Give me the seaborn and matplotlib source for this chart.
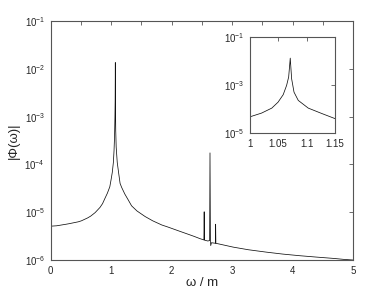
import numpy as np
import pandas as pd
import seaborn as sns
import matplotlib
matplotlib.use('Agg')
import matplotlib.pyplot as plt
from matplotlib.ticker import FixedLocator, MultipleLocator, NullLocator

# |Phi(omega)|, omega in units of m
omega = [0.00, 0.102, 0.256, 0.307, 0.46, 0.51, 0.614, 0.665, 0.737, 0.818,
         0.86, 0.90, 0.94, 0.98, 1.000, 1.021, 1.039, 1.050, 1.059, 1.065,
         1.0686, 1.0714, 1.0738, 1.078, 1.0855, 1.103, 1.127, 1.15, 1.176, 1.228,
         1.279, 1.34, 1.43, 1.565, 1.69, 1.84, 1.94, 2.11, 2.25, 2.38,
         2.47, 2.50, 2.535, 2.540, 2.545, 2.60, 2.630, 2.636, 2.643, 2.648,
         2.66, 2.725, 2.729, 2.733, 2.76, 3.02, 3.27, 3.57, 3.84, 4.12,
         4.40, 4.68, 4.85, 5.00]
phi = [5.1e-6, 5.2e-6, 5.6e-6, 5.75e-6, 6.3e-6, 6.6e-6, 7.6e-6, 8.3e-6, 9.8e-6, 1.26e-5,
       1.51e-5, 1.95e-5, 2.5e-5, 3.4e-5, 4.7e-5, 6.8e-5, 1.1e-4, 1.95e-4, 4.0e-4, 9.8e-4,
       2.2e-3, 1.35e-2, 1.86e-3, 5.1e-4, 2.3e-4, 1.1e-4, 6.5e-5, 4.0e-5, 3.3e-5, 2.4e-5,
       1.86e-5, 1.36e-5, 1.06e-5, 8.1e-6, 6.6e-6, 5.4e-6, 4.9e-6, 4.1e-6, 3.55e-6, 3.1e-6,
       2.8e-6, 2.72e-6, 2.63e-6, 1.02e-5, 2.6e-6, 2.5e-6, 2.55e-6, 1.74e-4, 2.7e-6, 2.0e-6,
       2.3e-6, 2.24e-6, 5.6e-6, 2.22e-6, 2.2e-6, 1.86e-6, 1.64e-6, 1.46e-6, 1.33e-6, 1.23e-6,
       1.15e-6, 1.08e-6, 1.03e-6, 1.0e-6]

main_xticks = [0, 1, 2, 3, 4, 5]
main_yticks = [1e-6, 1e-5, 1e-4, 1e-3, 1e-2, 1e-1]
inset_xticks = [1, 1.05, 1.1, 1.15]
inset_xlabels = ['1', '1.05', '1.1', '1.15']
inset_yticks = [1e-5, 1e-3, 1e-1]

df = pd.DataFrame({'omega': omega, 'phi': phi})

sns.set_style('white')
plt.rcParams['font.family'] = ['Liberation Sans', 'DejaVu Sans']
plt.rcParams['mathtext.fontset'] = 'custom'
plt.rcParams['mathtext.rm'] = 'Liberation Sans'
plt.rcParams['mathtext.it'] = 'Liberation Sans:italic'

fig = plt.figure(figsize=(3.9, 2.94), dpi=100)
ax = fig.add_axes([0.1295, 0.1156, 0.7757, 0.813])
sns.lineplot(data=df, x='omega', y='phi', ax=ax, color='#111111', linewidth=0.55, sort=False)
ax.set_yscale('log')
ax.set_xlim(0, 5)
ax.set_ylim(1e-6, 1e-1)
ax.xaxis.set_major_locator(FixedLocator(main_xticks))
ax.xaxis.set_minor_locator(MultipleLocator(0.5))
ax.yaxis.set_major_locator(FixedLocator(main_yticks))
ax.yaxis.set_minor_locator(NullLocator())
ax.set_xlabel('ω / m', fontsize=9.5, labelpad=1)
ax.set_ylabel('|Φ(ω)|', fontsize=9.5, labelpad=3)

ins = fig.add_axes([0.640, 0.5476, 0.219, 0.3254])
sns.lineplot(data=df, x='omega', y='phi', ax=ins, color='#111111', linewidth=0.55, sort=False)
ins.set_yscale('log')
ins.set_xlim(1, 1.15)
ins.set_ylim(1e-5, 1e-1)
ins.xaxis.set_major_locator(FixedLocator(inset_xticks))
ins.set_xticklabels(inset_xlabels)
ins.yaxis.set_major_locator(FixedLocator(inset_yticks))
ins.yaxis.set_minor_locator(NullLocator())
ins.set_xlabel('')
ins.set_ylabel('')

for a in (ax, ins):
    a.tick_params(which='both', direction='in', top=True, right=True,
                  labelsize=7, color='#555555', width=0.6)
    a.tick_params(which='major', length=3, pad=4)
    a.tick_params(which='minor', length=3)
    for s in a.spines.values():
        s.set_color('#555555')
        s.set_linewidth(0.8)

fig.savefig('out.png', dpi=100)
